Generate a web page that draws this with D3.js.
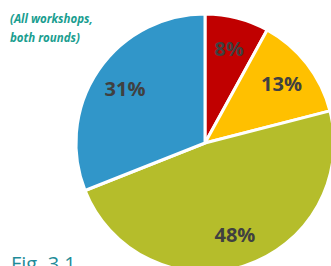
<!DOCTYPE html>
<html>
<head>
<meta charset="utf-8">
<script src="https://cdn.jsdelivr.net/npm/d3@7"></script>
<style>
  html, body { margin: 0; padding: 0; background: #fff; }
  svg { display: block; }
</style>
</head>
<body>
<div id="chart"></div>
<script>
// pie values, clockwise from 12 o'clock
const categories = ["A", "B", "C", "D"];
const values = [8, 13, 48, 31];
const labels = ["8%", "13%", "48%", "31%"];
const colors = ["#c00000", "#ffc000", "#b5bd2b", "#3196c9"];

const width = 331;
const height = 266;
const cx = 205, cy = 143, r = 129;

const svg = d3.select("#chart")
  .append("svg")
  .attr("width", width)
  .attr("height", height);

const pie = d3.pie().sort(null).value(d => d)(values);
const arc = d3.arc().innerRadius(0).outerRadius(r);
const labelArc = d3.arc().innerRadius(r * 0.75).outerRadius(r * 0.75);

const g = svg.append("g").attr("transform", `translate(${cx},${cy})`);

g.selectAll("path")
  .data(pie)
  .enter()
  .append("path")
  .attr("d", arc)
  .attr("fill", (d, i) => colors[i])
  .attr("stroke", "#fff")
  .attr("stroke-width", 3)
  .attr("stroke-linejoin", "round");

g.selectAll("text")
  .data(pie)
  .enter()
  .append("text")
  .attr("transform", d => `translate(${labelArc.centroid(d)})`)
  .attr("text-anchor", "middle")
  .attr("dy", "0.35em")
  .attr("font-family", "Open Sans, sans-serif")
  .attr("font-weight", "bold")
  .attr("font-size", 20)
  .attr("fill", "#404040")
  .text((d, i) => labels[i]);

// subtitle
const sub = svg.append("text")
  .attr("font-family", "Open Sans, sans-serif")
  .attr("font-weight", "bold")
  .attr("font-style", "italic")
  .attr("font-size", 11.5)
  .attr("fill", "#1a9e90");
sub.append("tspan").attr("x", 10).attr("y", 23).text("(All workshops,");
sub.append("tspan").attr("x", 10).attr("y", 42).text("both rounds)");

svg.append("text")
  .attr("x", 11)
  .attr("y", 271)
  .attr("font-family", "Open Sans, sans-serif")
  .attr("font-size", 20)
  .attr("fill", "#1f8c99")
  .text("Fig. 3.1");
</script>
</body>
</html>
